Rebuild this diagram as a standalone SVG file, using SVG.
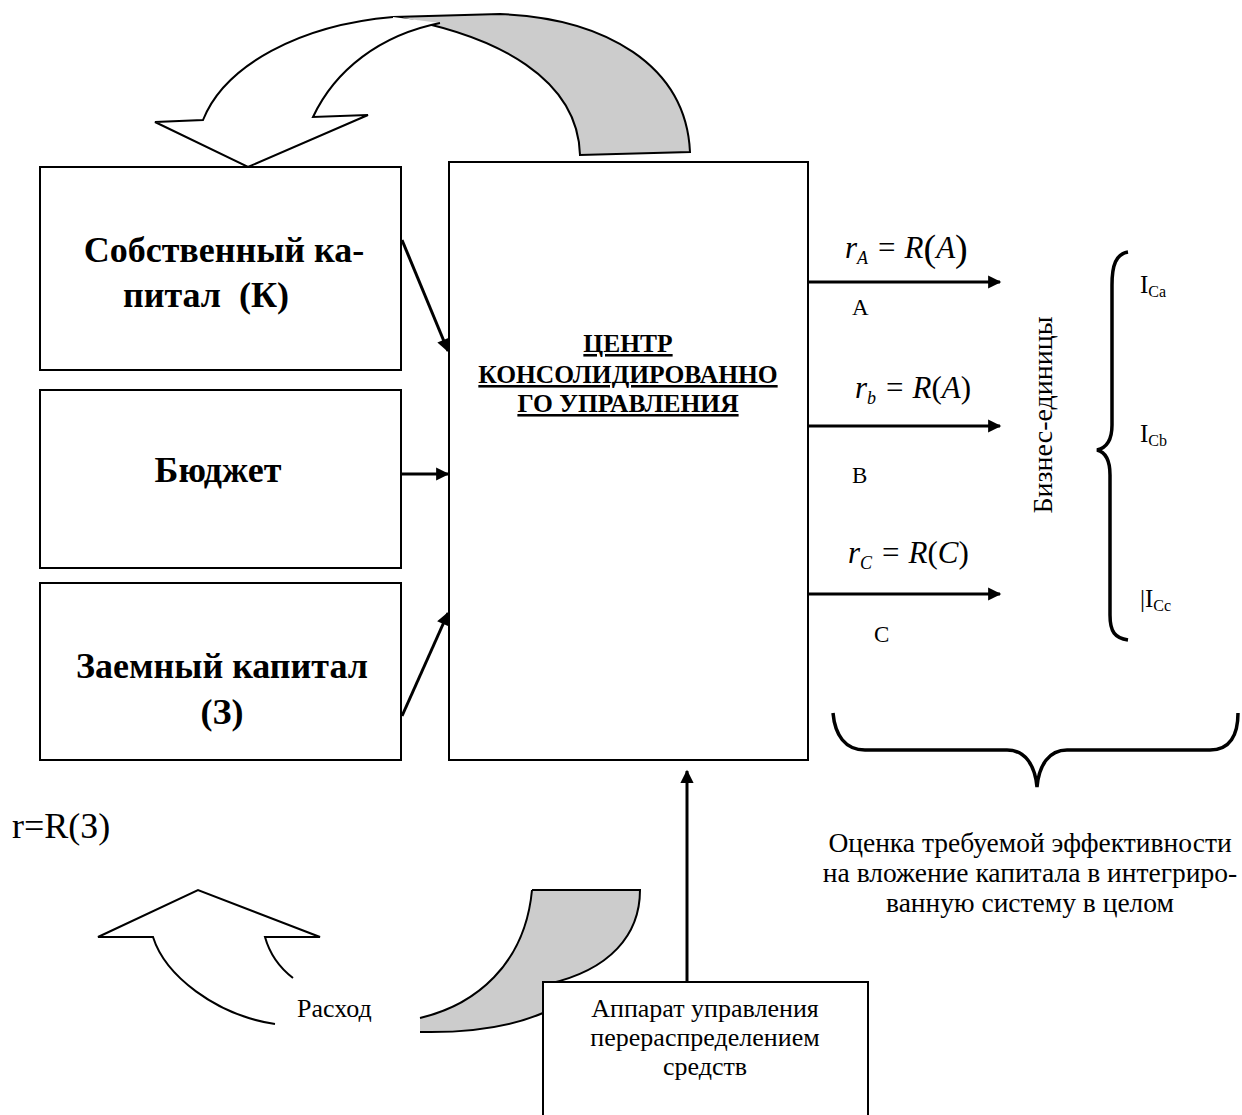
<svg xmlns="http://www.w3.org/2000/svg" width="1242" height="1115" viewBox="0 0 1242 1115">
<defs>
<marker id="ah" viewBox="0 0 10 10" refX="9" refY="5" markerWidth="5" markerHeight="4.4" markerUnits="strokeWidth" orient="auto">
<path d="M0,0 L10,5 L0,10 Z" fill="#000"/>
</marker>
<style>
text{font-family:"Liberation Serif","Times New Roman",serif;fill:#000}
.box{fill:#fff;stroke:#000;stroke-width:2}
.lbl{font-size:36px;font-weight:bold;text-anchor:middle}
.ctr{font-size:25.5px;font-weight:bold;text-anchor:middle;text-decoration:underline}
.reg{font-size:26px}
.ev{font-size:27.5px;text-anchor:middle}
.f{font-size:31px}
.it{font-style:italic}
.conn{stroke:#000;stroke-width:3;fill:none;marker-end:url(#ah)}
.br{stroke:#000;stroke-width:3.5;fill:none}
.sh{stroke:#000;stroke-width:2}
</style>
</defs>
<rect width="1242" height="1115" fill="#fff"/>

<g id="top-curved-arrow">
<path class="sh" d="M393,17 L500,14 C605,18 686,65 690,152 L580,155 C578,80 500,35 393,17 Z" fill="#cccccc"/>
<path class="sh" d="M393,17 C300,25 225,65 203,120 L155,122 L248,167 L368,115 L313,117 C335,70 380,35 440,23" fill="#fff"/>
</g>

<g id="bottom-curved-arrow">
<path d="M532,890 L640,890 C640,935 610,970 548,984 L560,1000 L543,1013 C510,1027 465,1033 420,1032 L420,1018 C475,1005 525,965 532,890 Z" fill="#cccccc"/>
<path class="sh" fill="none" d="M532,890 L640,890 C640,935 610,970 548,984"/>
<path class="sh" fill="none" d="M543,1013 C510,1027 465,1033 420,1032"/>
<path class="sh" fill="none" d="M420,1018 C475,1005 525,965 532,890"/>
<path class="sh" fill="none" d="M275,1024 C215,1015 165,975 153,937 L98,937 L198,890 L320,937 L265,937 C270,955 280,968 293,978"/>
<text class="reg" x="297" y="1017">Расход</text>
</g>

<g id="own-capital">
<rect class="box" x="40" y="167" width="361" height="203"/>
<text class="lbl" x="224" y="262">Собственный ка-</text>
<text class="lbl" x="206" y="307" xml:space="preserve">питал  (К)</text>
</g>

<g id="budget">
<rect class="box" x="40" y="390" width="361" height="178"/>
<text class="lbl" x="218" y="482">Бюджет</text>
</g>

<g id="borrowed-capital">
<rect class="box" x="40" y="583" width="361" height="177"/>
<text class="lbl" x="222" y="678">Заемный капитал</text>
<text class="lbl" x="222" y="724">(З)</text>
</g>

<g id="center">
<rect class="box" x="449" y="162" width="359" height="598"/>
<text class="ctr" x="628" y="352">ЦЕНТР</text>
<text class="ctr" x="628" y="383">КОНСОЛИДИРОВАННО</text>
<text class="ctr" x="628" y="412">ГО УПРАВЛЕНИЯ</text>
</g>

<g id="apparatus">
<rect class="box" x="543" y="982" width="325" height="150"/>
<text class="reg" x="705" y="1017" text-anchor="middle">Аппарат управления</text>
<text class="reg" x="705" y="1046" text-anchor="middle">перераспределением</text>
<text class="reg" x="705" y="1075" text-anchor="middle">средств</text>
</g>

<g id="connectors">
<line class="conn" x1="402" y1="240" x2="448" y2="351"/>
<line class="conn" x1="402" y1="474" x2="448" y2="474"/>
<line class="conn" x1="402" y1="716" x2="448" y2="613"/>
<line class="conn" x1="808" y1="282" x2="1000" y2="282"/>
<line class="conn" x1="808" y1="426" x2="1000" y2="426"/>
<line class="conn" x1="808" y1="594" x2="1000" y2="594"/>
<line class="conn" x1="687" y1="982" x2="687" y2="771"/>
</g>

<g id="formulas">
<text class="f" x="845" y="258"><tspan class="it">r</tspan><tspan class="it" font-size="18" dy="6">A</tspan><tspan dy="-6" dx="10">=</tspan><tspan class="it" dx="9">R</tspan><tspan font-size="38" dy="3">(</tspan><tspan class="it" dy="-3">A</tspan><tspan font-size="38" dy="3">)</tspan></text>
<text class="f" x="855" y="398"><tspan class="it">r</tspan><tspan class="it" font-size="18" dy="6">b</tspan><tspan dy="-6" dx="10">=</tspan><tspan class="it" dx="9">R</tspan>(<tspan class="it">A</tspan>)</text>
<text class="f" x="848" y="563"><tspan class="it">r</tspan><tspan class="it" font-size="18" dy="6">C</tspan><tspan dy="-6" dx="10">=</tspan><tspan class="it" dx="9">R</tspan>(<tspan class="it">C</tspan>)</text>
<text font-size="23" x="852" y="315">A</text>
<text font-size="23" x="852" y="483">B</text>
<text font-size="23" x="874" y="642">C</text>
</g>

<g id="business-units">
<text font-size="28" transform="translate(1052,415) rotate(-90)" text-anchor="middle">Бизнес-единицы</text>
<path class="br" d="M1128,252 C1116,254 1112,265 1112,285 L1112,425 C1112,440 1106,448 1097,450 C1105,452 1110,460 1110,475 L1110,615 C1110,632 1115,638 1128,640"/>
<text font-size="25" x="1140" y="293">I<tspan font-size="16" dy="4">Ca</tspan></text>
<text font-size="25" x="1140" y="442">I<tspan font-size="16" dy="4">Cb</tspan></text>
<text font-size="25" x="1140" y="607">|I<tspan font-size="16" dy="4">Cc</tspan></text>
</g>

<g id="evaluation">
<path class="br" d="M833,713 C835,735 845,750 865,750 L1007,750 C1025,750 1035,765 1037,787 C1039,765 1049,750 1067,750 L1210,750 C1230,750 1238,735 1238,713"/>
<text class="ev" x="1030" y="852">Оценка требуемой эффективности</text>
<text class="ev" x="1030" y="882">на вложение капитала в интегриро-</text>
<text class="ev" x="1030" y="912">ванную систему в целом</text>
</g>

<text x="12" y="838" font-size="36">r=R(З)</text>
</svg>
